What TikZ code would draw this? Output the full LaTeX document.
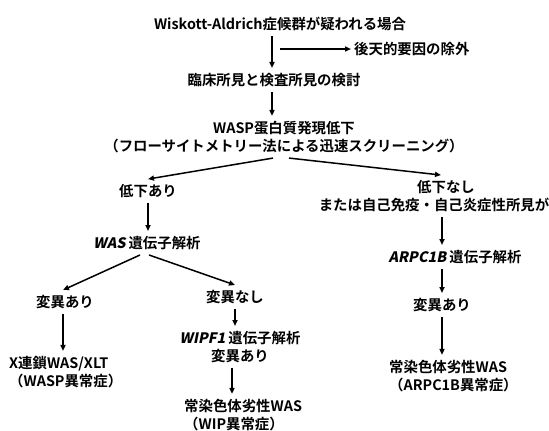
\documentclass[tikz,border=0pt]{standalone}
\usepackage{fontspec}
\setmainfont{Noto Sans CJK JP}[BoldFont={Noto Sans CJK JP Bold}]
\newfontfamily\itjp{Noto Sans CJK JP Bold}[FakeSlant=0.2]
\usetikzlibrary{arrows.meta}
\begin{document}
\begin{tikzpicture}[x=1pt,y=-1pt,
  every node/.style={font=\bfseries\fontsize{14.4}{18}\selectfont, inner xsep=3pt, inner ysep=5pt},
  arr/.style={line width=1.5pt, -{Triangle[length=6pt,width=5pt]}}]
\fill[white] (0,0) rectangle (549,431);
\useasboundingbox (0,0) rectangle (549,431);
\node (title) at (280,24) {Wiskott-Aldrich症候群が疑われる場合};
\coordinate (br) at (280,49);
\node[anchor=west] (acq) at (351,49) {後天的要因の除外};
\node (clin) at (274,80) {臨床所見と検査所見の検討};
\node[align=center] (wasp) at (284,137) {WASP蛋白質発現低下\\（フローサイトメトリー法による迅速スクリーニング）};
\node (low) at (148,191) {低下あり};
\node[align=center] (nolow) at (434,196) {\hspace*{24pt}低下なし\\または自己免疫・自己炎症性所見が};
\node (was) at (147,243) {{\itjp WAS}\hspace{3pt}遺伝子解析};
\node (mutL) at (65,302) {変異あり};
\node[align=left, anchor=west] (xlt) at (6,372) {X連鎖WAS/XLT\\（WASP異常症）};
\node (nomut) at (235,297) {変異なし};
\node[align=center] (wipf) at (240,347) {{\itjp WIPF1}\hspace{3pt}遺伝子解析\\変異あり};
\node[align=left, anchor=west] (wipres) at (181,415) {常染色体劣性WAS\\（WIP異常症）};
\node (arpc) at (455,257) {{\itjp ARPC1B}\hspace{3pt}遺伝子解析};
\node (mutR) at (442,305) {変異あり};
\node[align=left, anchor=west] (arpcres) at (386,376) {常染色体劣性WAS\\（ARPC1B異常症）};

\draw[arr] ([xshift=-8pt]title.south) -- ([xshift=-2pt]clin.north);
\draw[arr] (br) -- (acq.west);
\draw[arr] ([xshift=-2pt]clin.south) -- ([xshift=-12pt]wasp.north);
\draw[arr] ([xshift=-11pt]wasp.south) -- (low.north);
\draw[arr] ([xshift=5pt]wasp.south) -- ([xshift=7pt]nolow.north);
\draw[arr] (low.south) -- (low.south |- was.north);
\draw[arr] ([xshift=-7pt]was.south) -- ([xshift=-2pt]mutL.north);
\draw[arr] ([xshift=2pt]was.south) -- (nomut.north);
\draw[arr] ([xshift=-2pt]mutL.south) -- ([xshift=-2pt]mutL.south |- xlt.north);
\draw[arr] (nomut.south) -- (nomut.south |- wipf.north);
\draw[arr] ([xshift=-8pt]wipf.south) -- ([xshift=-8pt]wipf.south |- wipres.north);
\draw[arr] ([xshift=8pt]nolow.south) -- ([xshift=8pt]nolow.south |- arpc.north);
\draw[arr] (mutR.north |- arpc.south) -- (mutR.north);
\draw[arr] (mutR.south) -- (mutR.south |- arpcres.north);
\end{tikzpicture}
\end{document}
